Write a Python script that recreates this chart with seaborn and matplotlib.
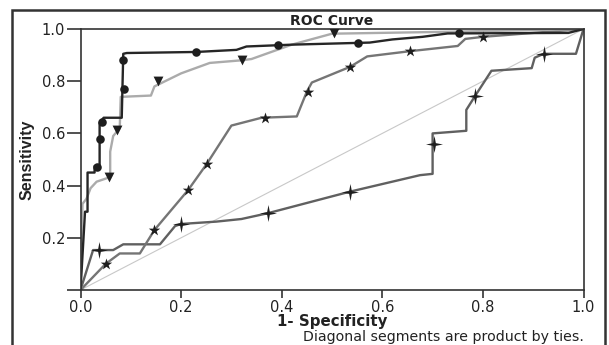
import matplotlib
matplotlib.use('Agg')
import matplotlib.pyplot as plt
import seaborn as sns
from matplotlib.path import Path

# ROC curves (1 - specificity, sensitivity)
black_x = [0, 0.009, 0.014, 0.014, 0.028, 0.028, 0.038, 0.038, 0.046, 0.082, 0.085, 0.092,
           0.23, 0.31, 0.33, 0.42, 0.575, 0.62, 0.68, 0.73, 0.97, 1.0]
black_y = [0, 0.30, 0.30, 0.45, 0.45, 0.475, 0.475, 0.64, 0.66, 0.66, 0.905, 0.908,
           0.912, 0.92, 0.933, 0.94, 0.948, 0.96, 0.97, 0.983, 0.985, 1.0]
black_mx = [0.032, 0.038, 0.042, 0.086, 0.085, 0.23, 0.393, 0.552, 0.753]
black_my = [0.47, 0.58, 0.645, 0.77, 0.88, 0.913, 0.937, 0.948, 0.983]

light_x = [0, 0.004, 0.012, 0.02, 0.032, 0.055, 0.059, 0.059, 0.065, 0.078, 0.08, 0.14,
           0.147, 0.2, 0.257, 0.32, 0.34, 0.42, 0.5, 0.75, 1.0]
light_y = [0, 0.33, 0.35, 0.39, 0.415, 0.43, 0.44, 0.53, 0.59, 0.62, 0.74, 0.745,
           0.78, 0.83, 0.87, 0.88, 0.885, 0.94, 0.982, 0.99, 1.0]
light_mx = [0.057, 0.073, 0.155, 0.322, 0.503]
light_my = [0.434, 0.613, 0.80, 0.881, 0.985]

mid_x = [0, 0.05, 0.078, 0.118, 0.147, 0.214, 0.251, 0.30, 0.36, 0.43, 0.45, 0.46,
         0.536, 0.57, 0.655, 0.75, 0.765, 0.80, 1.0]
mid_y = [0, 0.10, 0.14, 0.14, 0.23, 0.383, 0.483, 0.63, 0.66, 0.665, 0.76, 0.795,
         0.855, 0.895, 0.915, 0.935, 0.962, 0.97, 1.0]
mid_mx = [0.05, 0.147, 0.214, 0.251, 0.367, 0.453, 0.536, 0.655, 0.80]
mid_my = [0.10, 0.23, 0.383, 0.483, 0.66, 0.76, 0.855, 0.915, 0.97]

dark_x = [0, 0.025, 0.065, 0.085, 0.158, 0.188, 0.20, 0.27, 0.32, 0.372, 0.536, 0.675,
          0.70, 0.70, 0.767, 0.767, 0.785, 0.817, 0.897, 0.903, 0.921, 0.985, 1.0]
dark_y = [0, 0.153, 0.153, 0.175, 0.175, 0.245, 0.253, 0.262, 0.272, 0.294, 0.377, 0.44,
          0.445, 0.60, 0.61, 0.69, 0.745, 0.84, 0.85, 0.89, 0.905, 0.905, 1.0]
dark_mx = [0.037, 0.20, 0.372, 0.536, 0.703, 0.785, 0.921]
dark_my = [0.153, 0.253, 0.294, 0.377, 0.56, 0.745, 0.906]

ref_x = [0, 1]
ref_y = [0, 1]

xticks = [0.0, 0.2, 0.4, 0.6, 0.8, 1.0]
yticks = [0.0, 0.2, 0.4, 0.6, 0.8, 1.0]
ytick_labels = ['', '0.2', '0.4', '0.6', '0.8', '1.0']

sns.set_style('white')
plt.rcParams['font.family'] = ['DejaVu Sans']

# four pointed sparkle marker
s = 0.16
sparkle = Path([(0, 1), (s, s), (1, 0), (s, -s), (0, -1), (-s, -s), (-1, 0), (-s, s), (0, 1)],
               [Path.MOVETO] + [Path.LINETO] * 7 + [Path.CLOSEPOLY])

fig = plt.figure(figsize=(6.09, 3.45), dpi=100)
ax = fig.add_axes([80.5 / 609, 55 / 345, 503 / 609, 261 / 345])

mk = '#1e1e1e'
sns.lineplot(x=ref_x, y=ref_y, ax=ax, color='#c8c8c8', linewidth=0.8, sort=False, estimator=None)
sns.lineplot(x=dark_x, y=dark_y, ax=ax, color='#606060', linewidth=1.7, sort=False, estimator=None)
sns.lineplot(x=mid_x, y=mid_y, ax=ax, color='#757575', linewidth=1.7, sort=False, estimator=None)
sns.lineplot(x=light_x, y=light_y, ax=ax, color='#ababab', linewidth=1.7, sort=False, estimator=None)
sns.lineplot(x=black_x, y=black_y, ax=ax, color='#262626', linewidth=1.7, sort=False, estimator=None)

sns.scatterplot(x=dark_mx, y=dark_my, ax=ax, marker=sparkle, s=150, color=mk, linewidth=0, zorder=5)
sns.scatterplot(x=mid_mx, y=mid_my, ax=ax, marker='*', s=75, color=mk, linewidth=0, zorder=5)
sns.scatterplot(x=light_mx, y=light_my, ax=ax, marker='v', s=50, color=mk, linewidth=0, zorder=5)
sns.scatterplot(x=black_mx, y=black_my, ax=ax, marker='o', s=38, color=mk, linewidth=0, zorder=5)

ax.set_xlim(0, 1)
ax.set_ylim(0, 1)
ax.set_xticks(xticks)
ax.set_xticklabels([f'{v:.1f}' for v in xticks])
ax.set_yticks(yticks)
ax.set_yticklabels(ytick_labels)
ax.tick_params(axis='x', direction='out', length=6, width=1.2, color='#333333', pad=1.5,
               labelsize=10.5, labelcolor='#222222', bottom=True)
ax.tick_params(axis='y', direction='out', length=10, width=1.2, color='#333333', pad=1,
               labelsize=10.5, labelcolor='#222222', left=True)
for side in ['left', 'bottom', 'top', 'right']:
    ax.spines[side].set_color('#333333')
    ax.spines[side].set_linewidth(1.2)

ax.set_title('ROC Curve', fontweight='bold', fontsize=10, pad=3, color='#222222')
ax.set_xlabel('1- Specificity', fontweight='bold', fontsize=10.8, color='#222222')
ax.xaxis.set_label_coords(0.5, -0.093)
ax.xaxis.label.set_verticalalignment('top')
ax.set_ylabel('Sensitivity', fontweight='bold', fontsize=11.5, color='#222222',
              family=['Liberation Sans', 'DejaVu Sans'])
ax.yaxis.set_label_coords(-0.092, 0.5)

fig.text(584 / 609, 1 - 341 / 345, 'Diagonal segments are product by ties.',
         ha='right', va='baseline', fontsize=10.2, color='#222222')

# outer frame around the figure
fig.add_artist(plt.Rectangle((12 / 609, -0.02), 593 / 609, 1 - 10 / 345 + 0.02,
                             transform=fig.transFigure, fill=False, lw=1.8, ec='#333333'))

fig.savefig('out.png', dpi=100)
